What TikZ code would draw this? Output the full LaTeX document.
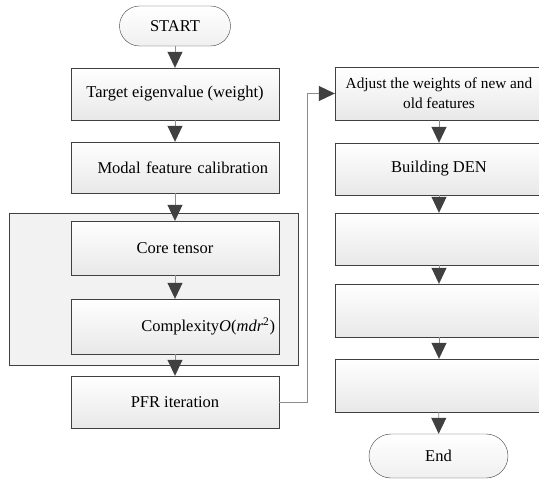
\documentclass[tikz,border=0pt]{standalone}
\usepackage{fontspec}
\setmainfont{Liberation Serif}
\usetikzlibrary{arrows.meta,shadows}

\tikzset{
  proc/.style={rectangle, draw=black!75, top color=white, bottom color=black!9,
    drop shadow={shadow xshift=0.8pt, shadow yshift=-0.8pt, fill=black!35, opacity=0.6},
    minimum width=208pt, minimum height=52pt, inner xsep=5pt,
    align=center, font=\fontsize{16.5}{20}\selectfont},
  term/.style={rectangle, rounded corners=20pt, draw=black!75, top color=white, bottom color=black!6,
    minimum height=40pt, font=\fontsize{16.5}{20}\selectfont},
  arr/.style={draw=black!45, line width=0.8pt, -{Triangle[length=16pt, width=15pt, color=black!75]}}
}

\begin{document}
\begin{tikzpicture}[x=1pt, y=-1pt]
\useasboundingbox (0,0) rectangle (539,479) ;
% left column
\node[term, minimum width=111pt] (start) at (175,26) {START} ;
\node[proc] (eig) at (175,94) {Target eigenvalue (weight)} ;
\node[proc, minimum height=51pt, text width=186pt, inner xsep=11pt, align=right] (modal) at (175,167.5) {Modal feature calibration} ;
\draw[draw=black!75, fill=black!5, drop shadow={shadow xshift=0.8pt, shadow yshift=-0.8pt, fill=black!35, opacity=0.6}] (9,213) rectangle (298,365) ;
\node[proc, minimum height=54pt] (core) at (175,248) {Core tensor} ;
\node[proc, minimum height=55pt, text width=200pt, inner xsep=4pt, align=right] (cplx) at (175,326.5)
  {Complexity\textit{O}(\textit{mdr}\textsuperscript{2})} ;
\node[proc] (pfr) at (175,402) {PFR iteration} ;
% right column
\node[proc, minimum height=53pt, inner xsep=0pt, font=\fontsize{15.3}{20}\selectfont] (adj) at (439,93.5) {Adjust the weights of new and\\old features} ;
\node[proc] (den) at (439,169) {Building DEN} ;
\node[proc] (e1) at (439,239) {} ;
\node[proc, minimum height=53pt] (e2) at (439,310.5) {} ;
\node[proc, minimum height=53pt] (e3) at (439,385.5) {} ;
\node[term, minimum width=139pt, minimum height=44pt, rounded corners=22pt] (end) at (438.5,456) {End} ;
\coordinate (turn) at (307,402) ;
% connectors
\draw[arr] (start) -- (eig) ;
\draw[arr] (eig) -- (modal) ;
\draw[arr] (modal) -- (core) ;
\draw[arr] (core) -- (cplx) ;
\draw[arr] (cplx) -- (pfr) ;
\draw[arr] (pfr.east) -- (turn) |- (adj.west) ;
\draw[arr] (adj) -- (den) ;
\draw[arr] (den) -- (e1) ;
\draw[arr] (e1) -- (e2) ;
\draw[arr] (e2) -- (e3) ;
\draw[arr] (e3) -- (end) ;
\end{tikzpicture}
\end{document}
